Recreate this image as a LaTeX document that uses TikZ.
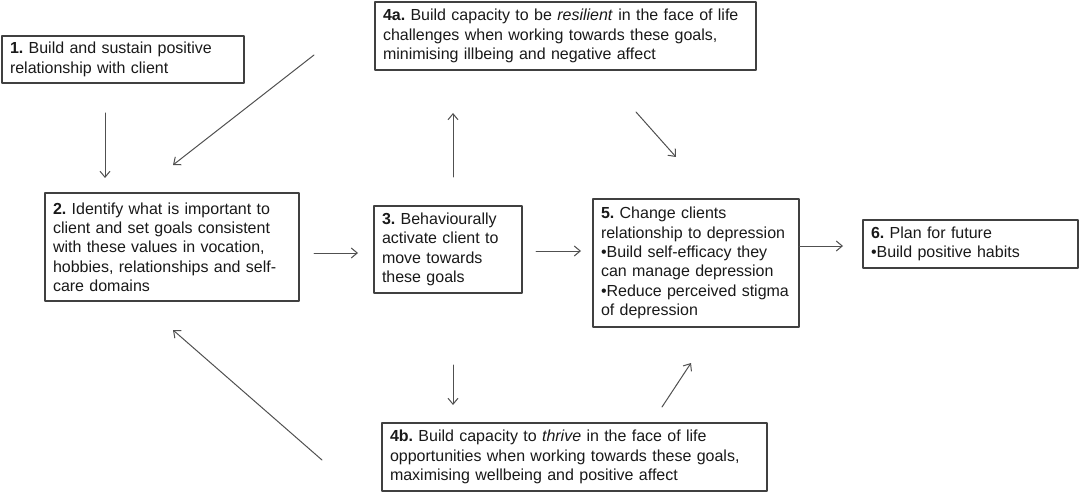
\documentclass[tikz,border=0pt]{standalone}
\usepackage{fontspec}
\setmainfont{Liberation Sans}
\usetikzlibrary{arrows.meta}
\frenchspacing

\definecolor{boxgray}{RGB}{64,64,64}
\definecolor{linegray}{RGB}{80,80,80}
\definecolor{textgray}{RGB}{25,25,25}

\tikzset{
  stage/.style={draw=boxgray, line width=1.3pt, align=left, inner xsep=8pt, inner ysep=0pt,
    text=textgray, font=\fontsize{16}{19.3}\selectfont},
  flow/.style={draw=linegray, line width=1pt, -{Straight Barb[length=6pt,width=10pt]}}
}

\begin{document}
\begin{tikzpicture}[line cap=round,line join=round,x=1pt,y=-1pt]
\useasboundingbox (0,0) rectangle (1080,492);
% stages
\node[stage, text width=226pt, minimum height=47pt] (b1) at (123,59.5)
  {\textbf{1.} Build and sustain positive\\relationship with client};
\node[stage, text width=365pt, minimum height=68pt] (b4a) at (565.5,36)
  {\textbf{4a.} Build capacity to be \textit{resilient} in the face of life\\challenges when working towards these goals,\\minimising illbeing and negative affect};
\node[stage, text width=238pt, minimum height=108pt] (b2) at (172,247)
  {\textbf{2.} Identify what is important to\\client and set goals consistent\\with these values in vocation,\\hobbies, relationships and self-\\care domains};
\node[stage, text width=132pt, minimum height=87pt] (b3) at (448,249.5)
  {\textbf{3.} Behaviourally\\activate client to\\move towards\\these goals};
\node[stage, inner xsep=4pt, text width=198pt, minimum height=128pt] (b5) at (696,263)
  {\hspace*{4pt}\textbf{5.} Change clients\\\hspace*{4pt}relationship to depression\\\hspace*{4pt}•Build self-efficacy they\\\hspace*{4pt}can manage depression\\\hspace*{4pt}•Reduce perceived stigma\\\hspace*{4pt}of depression};
\node[stage, text width=199pt, minimum height=48pt] (b6) at (970.5,244)
  {\textbf{6.} Plan for future\\•Build positive habits};
\node[stage, text width=369pt, minimum height=68pt] (b4b) at (574.5,457)
  {\textbf{4b.} Build capacity to \textit{thrive} in the face of life\\opportunities when working towards these goals,\\maximising wellbeing and positive affect};
% arrow ends
\coordinate (t12) at (105,113);   \coordinate (h12) at (105,178);
\coordinate (t4a2) at (314,55);   \coordinate (h4a2) at (173,165);
\coordinate (t23) at (314,253);   \coordinate (h23) at (358,253);
\coordinate (t34a) at (453,177);  \coordinate (h34a) at (453,113);
\coordinate (t4a5) at (636,112);  \coordinate (h4a5) at (676,157);
\coordinate (t35) at (536,251);   \coordinate (h35) at (581,251);
\coordinate (t56) at (799,246);   \coordinate (h56) at (843,246);
\coordinate (t34b) at (453,365);  \coordinate (h34b) at (453,405);
\coordinate (t4b5) at (662,407);  \coordinate (h4b5) at (691,363);
\coordinate (t4b2) at (322,460);  \coordinate (h4b2) at (173,330);
\foreach \a/\b in {t12/h12,t4a2/h4a2,t23/h23,t34a/h34a,t4a5/h4a5,t35/h35,t56/h56,t34b/h34b,t4b5/h4b5,t4b2/h4b2}
  \draw[flow] (\a) -- (\b);
\end{tikzpicture}
\end{document}
